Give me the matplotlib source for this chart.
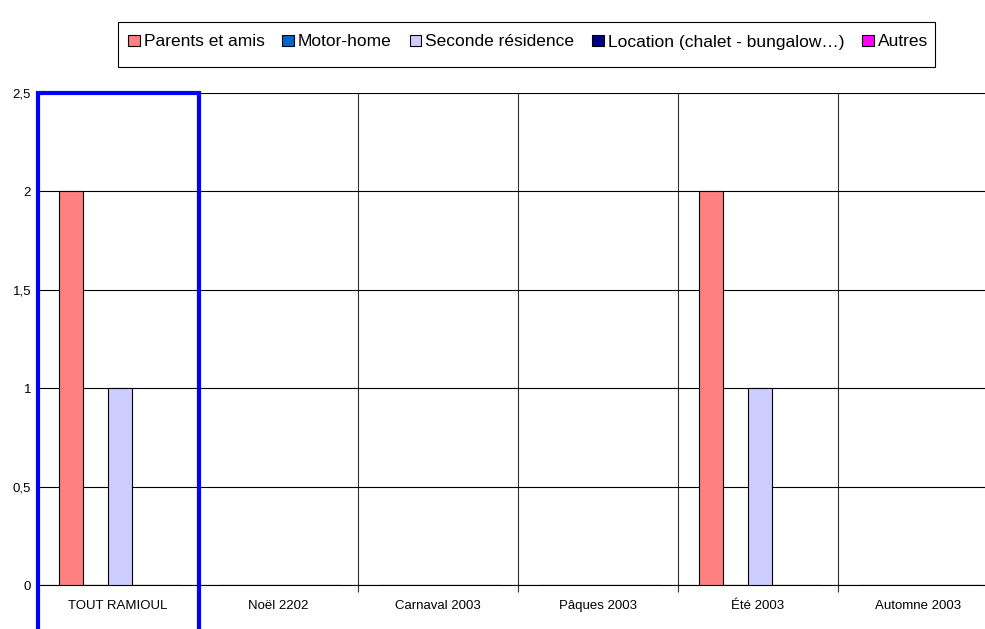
import numpy as np
import matplotlib.pyplot as plt
from matplotlib.patches import Rectangle

plt.rcParams['font.family'] = ['Liberation Sans', 'DejaVu Sans']

# data
categories = ['TOUT RAMIOUL', 'Noël 2202', 'Carnaval 2003', 'Pâques 2003', 'Été 2003', 'Automne 2003']
series_names = ['Parents et amis', 'Motor-home', 'Seconde résidence', 'Location (chalet - bungalow…)', 'Autres']
parents = [2, 0, 0, 0, 2, 0]
motorhome = [0, 0, 0, 0, 0, 0]
seconde = [1, 0, 0, 0, 1, 0]
location = [0, 0, 0, 0, 0, 0]
autres = [0, 0, 0, 0, 0, 0]
yticks = [0, 0.5, 1, 1.5, 2, 2.5]
ytick_labels = ['0', '0,5', '1', '1,5', '2', '2,5']

colors = ['#FF8080', '#0066CC', '#CCCCFF', '#000080', '#FF00FF']

fig = plt.figure(figsize=(9.85, 6.29), dpi=100)
W, H = 985, 629
ax = fig.add_axes([38 / W, (H - 585) / H, 960 / W, 492 / H])

x = np.arange(len(categories))
bw = 0.153
offsets = (np.arange(5) - 2) * bw + 0.0125
all_series = [parents, motorhome, seconde, location, autres]
handles = []
for vals, name, col, off in zip(all_series, series_names, colors, offsets):
    b = ax.bar(x + off, vals, width=bw, color=col, edgecolor='black', linewidth=0.8,
               label=name, zorder=3)
    handles.append(b)

ax.set_xlim(-0.5, len(categories) - 0.5)
ax.set_ylim(0, 2.5)
ax.set_yticks(yticks)
ax.set_yticklabels(ytick_labels, fontsize=9.5)
ax.set_xticks(x)
ax.set_xticklabels(categories, fontsize=9.5, va='baseline')
ax.tick_params(axis='x', which='major', length=0, pad=17)
ax.tick_params(axis='y', length=0, pad=5)
ax.set_xticks(np.arange(len(categories) + 1) - 0.5, minor=True)
ax.tick_params(axis='x', which='minor', length=5, color='#333333', width=0.8)
ax.grid(axis='y', color='black', linewidth=0.8, zorder=0)
ax.grid(axis='x', which='minor', color='#333333', linewidth=0.8, zorder=0)
ax.set_axisbelow(True)
for s in ['top', 'right']:
    ax.spines[s].set_visible(False)
ax.spines['bottom'].set_linewidth(0.8)
ax.spines['left'].set_visible(False)

# blue highlight box around the first category
fig.patches.append(Rectangle((38 / W, -0.05), 161 / W, (H - 93) / H + 0.05,
                             transform=fig.transFigure, fill=False,
                             edgecolor='#0000FF', linewidth=3, clip_on=False, zorder=10))

# legend entries, with its frame drawn separately (text sits above the frame's centre)
fig.legend(handles=handles, loc='center left', bbox_to_anchor=(128 / W, 1 - 42 / H),
           ncol=5, fontsize=12.5, frameon=False,
           handlelength=0.67, handleheight=0.67, handletextpad=0.23, columnspacing=1.03,
           borderpad=0, borderaxespad=0)
fig.patches.append(Rectangle((118 / W, 1 - 67 / H), 817 / W, 45 / H,
                             transform=fig.transFigure, fill=False,
                             edgecolor='black', linewidth=0.8))

fig.savefig('out.png', dpi=100)
